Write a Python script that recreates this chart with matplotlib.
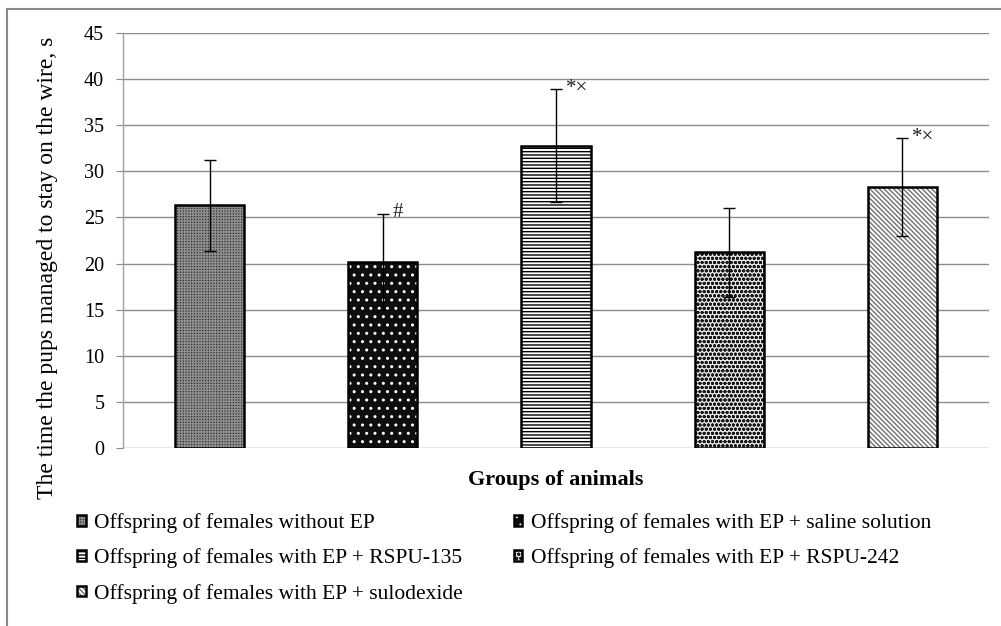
import matplotlib.pyplot as plt
from matplotlib.lines import Line2D
import numpy as np

# data
groups = ["Offspring of females without EP",
          "Offspring of females with EP + saline solution",
          "Offspring of females with EP + RSPU-135",
          "Offspring of females with EP + RSPU-242",
          "Offspring of females with EP + sulodexide"]
means = [26.3, 20.2, 32.8, 21.2, 28.3]
errors = [4.9, 5.2, 6.1, 4.8, 5.3]
marks = ["", "#", "*×", "", "*×"]

faces = ["#333333", "#0e0e0e", "white", "#e8e8e8", "white"]
hatch_cols = ["#8e8e8e", "white", "black", "#1a1a1a", "#707070"]
hatches = ["++++++", "..", "-----", "oooo", "\\\\\\\\\\\\\\"]

plt.rcParams['font.family'] = ['Liberation Serif', 'DejaVu Serif']
plt.rcParams['hatch.linewidth'] = 1.0

fig = plt.figure(figsize=(10.01, 6.26), dpi=100)
ax = fig.add_axes([123 / 1001, 1 - 448 / 626, (989 - 123) / 1001, (448 - 33) / 626])

x = np.arange(len(means))
handles = []
for i in range(len(means)):
    b = ax.bar(x[i], means[i], width=0.4, color=faces[i], edgecolor=hatch_cols[i],
               hatch=hatches[i], linewidth=0, zorder=2)
    o = ax.bar(x[i], means[i], width=0.4, fill=False, edgecolor='black', linewidth=1.8, zorder=3)
    handles.append((b[0], o[0]))

ax.errorbar(x, means, yerr=errors, fmt='none', ecolor='black', elinewidth=1.0,
            capsize=4.5, capthick=1.0, zorder=4)

for i in range(len(means)):
    if marks[i]:
        ax.text(x[i] + 0.055, means[i] + errors[i] + 0.15, marks[i], ha='left', va='center',
                fontsize=15, color='#222222', zorder=5)

ax.set_xlim(-0.5, 4.5)
ax.set_ylim(0, 45)
ax.set_yticks(range(0, 50, 5))
ax.tick_params(axis='y', labelsize=14.5, length=5, color='#888888', pad=8.5)
ax.tick_params(axis='x', bottom=False, labelbottom=False)
ax.yaxis.grid(True, color='#8c8c8c', linewidth=1.0, zorder=0)
ax.set_axisbelow(True)
for s in ['top', 'right', 'bottom']:
    ax.spines[s].set_visible(False)
ax.spines['left'].set_color('#a0a0a0')
ax.spines['left'].set_linewidth(1.0)

fig.text(48 / 1001, 1 - 268 / 626, "The time the pups managed to stay on the wire, s",
         rotation=90, ha='center', va='center', fontsize=17)
fig.text(556 / 1001, 1 - 480 / 626, "Groups of animals", ha='center', va='center',
         fontsize=16, fontweight='bold')

order = [0, 2, 4, 1, 3]
fig.legend(handles=[handles[k] for k in order], labels=[groups[k] for k in order],
           ncol=2, loc='upper left', bbox_to_anchor=(77 / 1001, 1 - 513 / 626),
           frameon=False, fontsize=15.5,
           handlelength=0.4, handleheight=0.4, handletextpad=0.4,
           columnspacing=2.35, labelspacing=0.72, borderaxespad=0, borderpad=0)

# outer frame (top and left edges visible)
fig.add_artist(Line2D([7 / 1001, 1], [1 - 9 / 626, 1 - 9 / 626], color='#8a8a8a', linewidth=1.5))
fig.add_artist(Line2D([7 / 1001, 7 / 1001], [0, 1 - 9 / 626], color='#8a8a8a', linewidth=1.5))

fig.savefig("out.png", dpi=100)
